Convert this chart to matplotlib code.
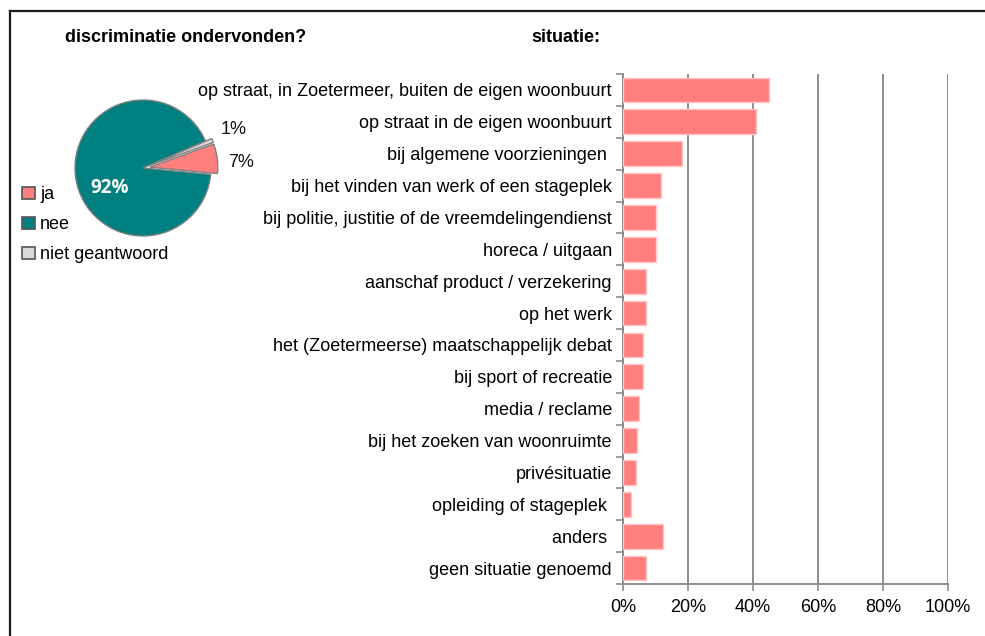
import numpy as np
import matplotlib
matplotlib.use("Agg")
import matplotlib.pyplot as plt
from matplotlib.patches import Patch
from matplotlib.lines import Line2D

plt.rcParams['font.family'] = ['Liberation Sans', 'DejaVu Sans']

# pie data
pie_labels = ['ja', 'niet geantwoord', 'nee']
pie_values = [7, 1, 92]
pie_colors = ['#ff7f7f', '#d9d9d9', '#008080']
pie_explode = [0.1, 0.1, 0.0]
legend_order = ['ja', 'nee', 'niet geantwoord']

# bar data
situaties = [
    'op straat, in Zoetermeer, buiten de eigen woonbuurt',
    'op straat in de eigen woonbuurt',
    'bij algemene voorzieningen ',
    'bij het vinden van werk of een stageplek',
    'bij politie, justitie of de vreemdelingendienst',
    'horeca / uitgaan',
    'aanschaf product / verzekering',
    'op het werk',
    'het (Zoetermeerse) maatschappelijk debat',
    'bij sport of recreatie',
    'media / reclame',
    'bij het zoeken van woonruimte',
    'privésituatie',
    'opleiding of stageplek ',
    'anders ',
    'geen situatie genoemd',
]
percentages = [45, 41, 18, 11.7, 10.2, 10, 7, 7, 6, 6, 5, 4.4, 3.9, 2.4, 12.2, 7]
x_ticks = [0, 20, 40, 60, 80, 100]

W, H = 985, 636
fig = plt.figure(figsize=(W / 100, H / 100), dpi=100)

# frame around the chart area (top and left visible)
fig.add_artist(Line2D([10 / W, 1.0], [1 - 11 / H, 1 - 11 / H], color='#1a1a1a', lw=1.6))
fig.add_artist(Line2D([10 / W, 10 / W], [1 - 11 / H, 0.0], color='#1a1a1a', lw=1.6))

# ---- pie ----
cx, cy, r = 143, 168, 68
half = 1.25 * r
ax_pie = fig.add_axes([(cx - half) / W, (H - cy - half) / H, 2 * half / W, 2 * half / H])
wedges, _ = ax_pie.pie(pie_values, colors=pie_colors, explode=pie_explode,
                       startangle=-5.4, counterclock=True,
                       wedgeprops=dict(edgecolor='#808080', linewidth=1.0))
ax_pie.set_xlim(-1.25, 1.25)
ax_pie.set_ylim(-1.25, 1.25)

# small label angle shifts so the outside labels sit like the original
label_shift = {'ja': -4.0, 'niet geantwoord': 1.5}
for w, v, name in zip(wedges, pie_values, pie_labels):
    if v < 50:
        mid = np.deg2rad((w.theta1 + w.theta2) / 2 + label_shift[name])
        ax_pie.text(1.45 * np.cos(mid), 1.45 * np.sin(mid), f'{v}%',
                    ha='center', va='center', fontsize=13, color='#111111')
    else:
        a = np.deg2rad(211)
        ax_pie.text(0.57 * np.cos(a), 0.57 * np.sin(a), f'{v}%', ha='center', va='center',
                    fontsize=13.5, fontweight='bold', color='white', family='Open Sans')

fig.text(186 / W, 1 - 37 / H, 'discriminatie ondervonden?', ha='center', va='center',
         fontsize=13, fontweight='bold')
fig.text(566 / W, 1 - 37 / H, 'situatie:', ha='center', va='center',
         fontsize=13, fontweight='bold')

handles = []
for name in legend_order:
    i = pie_labels.index(name)
    handles.append(Patch(facecolor=pie_colors[i], edgecolor='#555555', linewidth=1.2, label=name))
fig.legend(handles=handles, loc='upper left', bbox_to_anchor=(15 / W, 1 - 179 / H),
           frameon=False, fontsize=13, handlelength=0.7, handleheight=0.7,
           handletextpad=0.3, labelspacing=0.72, borderaxespad=0)

# ---- bars ----
ax = fig.add_axes([623 / W, 52 / H, 325 / W, 510 / H])
y = np.arange(len(situaties))
ax.barh(y, percentages, height=0.78, color='#ff7f7f', edgecolor='#ffc4c4', linewidth=1.0, zorder=3)
ax.set_xlim(0, 100)
ax.set_ylim(len(situaties) - 0.5, -0.5)
ax.set_xticks(x_ticks)
ax.set_xticklabels([f'{t}%' for t in x_ticks], fontsize=13)
ax.set_yticks(y)
ax.set_yticklabels(situaties, fontsize=13)
ax.set_yticks(np.arange(len(situaties) + 1) - 0.5, minor=True)
ax.tick_params(axis='y', which='major', length=0, pad=8)
ax.tick_params(axis='y', which='minor', length=5, width=1.2, color='#8c8c8c', direction='out')
ax.tick_params(axis='x', length=5, width=1.2, color='#8c8c8c', direction='out', pad=6)
ax.grid(axis='x', color='#8c8c8c', linewidth=1.4, zorder=0)
for s in ['top', 'right']:
    ax.spines[s].set_visible(False)
for s in ['left', 'bottom']:
    ax.spines[s].set_color('#8c8c8c')
    ax.spines[s].set_linewidth(1.4)
ax.set_axisbelow(True)

fig.savefig('out.png', dpi=100)
